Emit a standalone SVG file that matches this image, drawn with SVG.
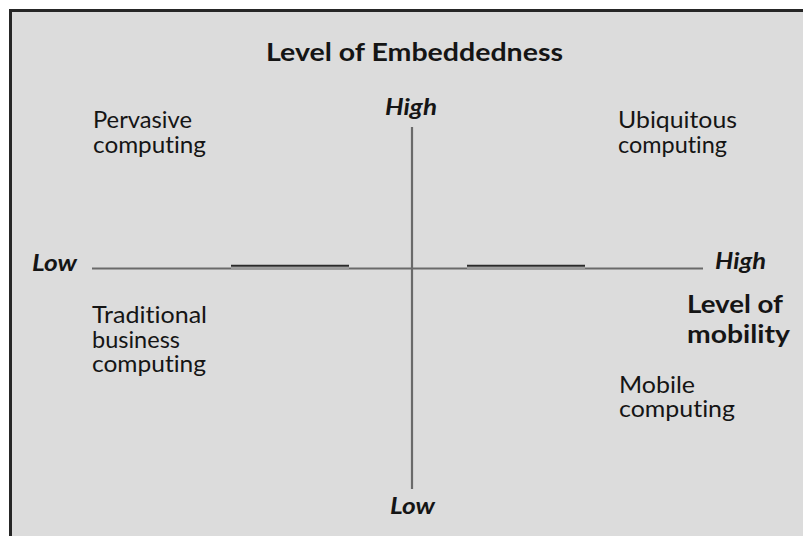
<svg xmlns="http://www.w3.org/2000/svg" width="803" height="536" viewBox="0 0 803 536">
  <style>
    text { font-family: Lato, "Open Sans", "Liberation Sans", sans-serif; fill: #151515; font-variant-ligatures: none; }
    .q { font-size: 23px; }
    .ttl { font-size: 24px; font-weight: bold; }
    .ax { font-size: 22px; font-weight: bold; font-style: italic; }
    .axis { stroke: #6a6a6a; stroke-width: 2.2; fill: none; }
    .tick { stroke: #2a2a2a; stroke-width: 2; }
    .under { stroke: #9a9a9a; stroke-width: 2.2; }
  </style>
  <rect x="0" y="0" width="803" height="536" fill="#ffffff"/>
  <rect x="10.5" y="10.5" width="800" height="540" fill="#dcdcdc" stroke="#262626" stroke-width="3"/>

  <g id="connectors">
    <line class="axis" x1="92" y1="268.5" x2="703" y2="268.5"/>
    <line class="axis" x1="412" y1="127" x2="412" y2="489"/>
    <line class="under" x1="231" y1="268.5" x2="349" y2="268.5"/>
    <line class="under" x1="467" y1="268.5" x2="585" y2="268.5"/>
    <line class="tick" x1="231" y1="265.8" x2="349" y2="265.8"/>
    <line class="tick" x1="467" y1="265.8" x2="585" y2="265.8"/>
  </g>

  <g id="title-embeddedness">
    <text class="ttl" x="266" y="61" textLength="297" lengthAdjust="spacingAndGlyphs">Level of Embeddedness</text>
  </g>
  <g id="label-high-top">
    <text class="ax" x="385" y="115" textLength="52" lengthAdjust="spacingAndGlyphs">High</text>
  </g>
  <g id="label-low-bottom">
    <text class="ax" x="390" y="514" textLength="45" lengthAdjust="spacingAndGlyphs">Low</text>
  </g>
  <g id="label-low-left">
    <text class="ax" x="32" y="271" textLength="45" lengthAdjust="spacingAndGlyphs">Low</text>
  </g>
  <g id="label-high-right">
    <text class="ax" x="715" y="269" textLength="51" lengthAdjust="spacingAndGlyphs">High</text>
  </g>
  <g id="title-mobility">
    <text class="ttl" x="687" y="313" textLength="96" lengthAdjust="spacingAndGlyphs">Level of</text>
    <text class="ttl" x="687" y="343" textLength="103" lengthAdjust="spacingAndGlyphs">mobility</text>
  </g>

  <g id="pervasive">
    <text class="q" x="93" y="128" textLength="99" lengthAdjust="spacingAndGlyphs">Pervasive</text>
    <text class="q" x="93" y="153" textLength="113" lengthAdjust="spacingAndGlyphs">computing</text>
  </g>
  <g id="ubiquitous">
    <text class="q" x="618" y="128" textLength="119" lengthAdjust="spacingAndGlyphs">Ubiquitous</text>
    <text class="q" x="618" y="153" textLength="109" lengthAdjust="spacingAndGlyphs">computing</text>
  </g>
  <g id="traditional">
    <text class="q" x="92" y="323" textLength="115" lengthAdjust="spacingAndGlyphs">Traditional</text>
    <text class="q" x="92" y="348" textLength="88" lengthAdjust="spacingAndGlyphs">business</text>
    <text class="q" x="92" y="372" textLength="114" lengthAdjust="spacingAndGlyphs">computing</text>
  </g>
  <g id="mobile">
    <text class="q" x="619" y="393" textLength="76" lengthAdjust="spacingAndGlyphs">Mobile</text>
    <text class="q" x="619" y="417" textLength="116" lengthAdjust="spacingAndGlyphs">computing</text>
  </g>
</svg>
